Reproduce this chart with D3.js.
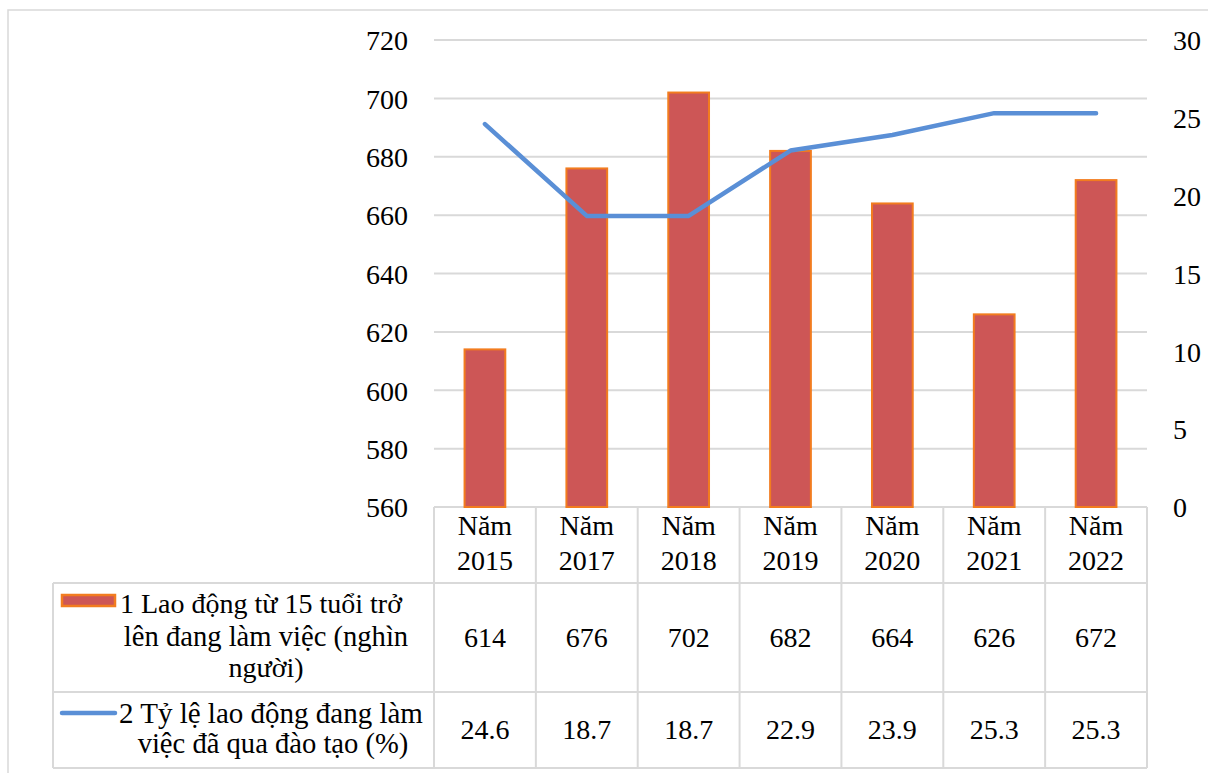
<!DOCTYPE html>
<html>
<head>
<meta charset="utf-8">
<script src="https://cdn.jsdelivr.net/npm/d3@7"></script>
<style>
  html, body { margin: 0; padding: 0; background: #fff; }
  svg { display: block; }
  svg, text { font-family: "Liberation Serif", "Times New Roman", serif; fill: #000; }
</style>
</head>
<body>
<svg id="chart" width="1208" height="773"></svg>
<script>
// Categories (years) and the two series
const categories = ["Năm 2015", "Năm 2017", "Năm 2018", "Năm 2019", "Năm 2020", "Năm 2021", "Năm 2022"];
const laborValues = [614, 676, 702, 682, 664, 626, 672];          // nghìn người
const trainedShare = [24.6, 18.7, 18.7, 22.9, 23.9, 25.3, 25.3];   // %
const trainedLabels = ["24.6", "18.7", "18.7", "22.9", "23.9", "25.3", "25.3"];

// Axis ticks
const leftTicks = [560, 580, 600, 620, 640, 660, 680, 700, 720];
const rightTicks = [0, 5, 10, 15, 20, 25, 30];

// Series names as wrapped in the data table
const laborName = ["1 Lao động từ 15 tuổi trở", "lên đang làm việc (nghìn", "người)"];
const shareName = ["2 Tỷ lệ lao động đang làm", "việc đã qua đào tạo (%)"];

const svg = d3.select("#chart");
const W = 1208, H = 773;
const plot = { left: 434, right: 1147, top: 40, bottom: 507 };
const rows = { top: 507, r1: 583, r2: 692, bottom: 768, tableLeft: 53 };
const gridColor = "#d9d9d9";
const barFill = "#cd5656", barStroke = "#f27c1f", lineColor = "#5a8fd6";
const fontSize = 28;

// Outer chart frame
svg.append("path")
  .attr("d", `M8,${H} L8,10 L${W},10`)
  .attr("fill", "none").attr("stroke", gridColor).attr("stroke-width", 1.5);

const x = d3.scaleBand().domain(categories).range([plot.left, plot.right]).paddingInner(0).paddingOuter(0);
const yL = d3.scaleLinear().domain([560, 720]).range([plot.bottom, plot.top]);
const yR = d3.scaleLinear().domain([0, 30]).range([plot.bottom, plot.top]);

// Horizontal gridlines
svg.append("g").selectAll("line").data(leftTicks).join("line")
  .attr("x1", plot.left).attr("x2", plot.right)
  .attr("y1", d => yL(d)).attr("y2", d => yL(d))
  .attr("stroke", gridColor).attr("stroke-width", 2);

// Left axis
const leftAxis = svg.append("g")
  .attr("transform", `translate(${plot.left},0)`)
  .call(d3.axisLeft(yL).tickValues(leftTicks).tickSize(0).tickPadding(26).tickFormat(d3.format("d")));
leftAxis.attr("font-family", null).attr("font-size", null);
leftAxis.select(".domain").remove();
leftAxis.selectAll("text").style("font-size", fontSize + "px").attr("dy", "0.35em");

// Right axis
const rightAxis = svg.append("g")
  .attr("transform", `translate(${plot.right},0)`)
  .call(d3.axisRight(yR).tickValues(rightTicks).tickSize(0).tickPadding(26).tickFormat(d3.format("d")));
rightAxis.attr("font-family", null).attr("font-size", null);
rightAxis.select(".domain").remove();
rightAxis.selectAll("text").style("font-size", fontSize + "px").attr("dy", "0.35em");

// Bars
const barW = x.bandwidth() * 0.4;
svg.append("g").selectAll("rect").data(laborValues).join("rect")
  .attr("x", (d, i) => x(categories[i]) + x.bandwidth() / 2 - barW / 2)
  .attr("y", d => yL(d))
  .attr("width", barW)
  .attr("height", d => yL(560) - yL(d))
  .attr("fill", barFill).attr("stroke", barStroke).attr("stroke-width", 2);

// Line
const line = d3.line()
  .x((d, i) => x(categories[i]) + x.bandwidth() / 2)
  .y(d => yR(d));
svg.append("path").datum(trainedShare)
  .attr("d", line)
  .attr("fill", "none").attr("stroke", lineColor).attr("stroke-width", 4.5)
  .attr("stroke-linejoin", "round").attr("stroke-linecap", "round");

// Data table grid
const tg = svg.append("g").attr("stroke", gridColor).attr("stroke-width", 2);
const colEdges = categories.map(c => x(c)).concat([plot.right]);
tg.selectAll("line.v").data(colEdges).join("line")
  .attr("x1", d => d).attr("x2", d => d).attr("y1", rows.top).attr("y2", rows.bottom);
tg.append("line").attr("x1", rows.tableLeft).attr("x2", rows.tableLeft).attr("y1", rows.r1).attr("y2", rows.bottom);
[rows.r1, rows.r2, rows.bottom].forEach(y => {
  tg.append("line").attr("x1", rows.tableLeft).attr("x2", plot.right).attr("y1", y).attr("y2", y);
});

// Category headers
const hdr = svg.append("g").style("font-size", fontSize + "px").attr("text-anchor", "middle");
categories.forEach(c => {
  const cx = x(c) + x.bandwidth() / 2;
  const parts = c.split(" ");
  hdr.append("text").attr("x", cx).attr("y", 535).text(parts[0]);
  hdr.append("text").attr("x", cx).attr("y", 570).text(parts[1]);
});

// Values rows
const vals = svg.append("g").style("font-size", fontSize + "px").attr("text-anchor", "middle");
laborValues.forEach((v, i) => {
  vals.append("text").attr("x", x(categories[i]) + x.bandwidth() / 2).attr("y", 647).text(v);
});
trainedLabels.forEach((v, i) => {
  vals.append("text").attr("x", x(categories[i]) + x.bandwidth() / 2).attr("y", 739).text(v);
});

// Series names with legend keys
const leg = svg.append("g").style("font-size", fontSize + "px");
leg.append("rect").attr("x", 62).attr("y", 595).attr("width", 53).attr("height", 11)
  .attr("fill", barFill).attr("stroke", barStroke).attr("stroke-width", 2.5);
leg.append("text").attr("x", 120).attr("y", 613).text(laborName[0]);
leg.append("text").attr("x", 266).attr("y", 646).attr("text-anchor", "middle").style("font-size", "28.6px").text(laborName[1]);
leg.append("text").attr("x", 266).attr("y", 677).attr("text-anchor", "middle").text(laborName[2]);

leg.append("line").attr("x1", 62).attr("x2", 115).attr("y1", 713).attr("y2", 713)
  .attr("stroke", lineColor).attr("stroke-width", 4.5).attr("stroke-linecap", "round");
leg.append("text").attr("x", 119).attr("y", 723).style("font-size", "29px").text(shareName[0]);
leg.append("text").attr("x", 273).attr("y", 753).attr("text-anchor", "middle").style("font-size", "28.6px").text(shareName[1]);
</script>
</body>
</html>
